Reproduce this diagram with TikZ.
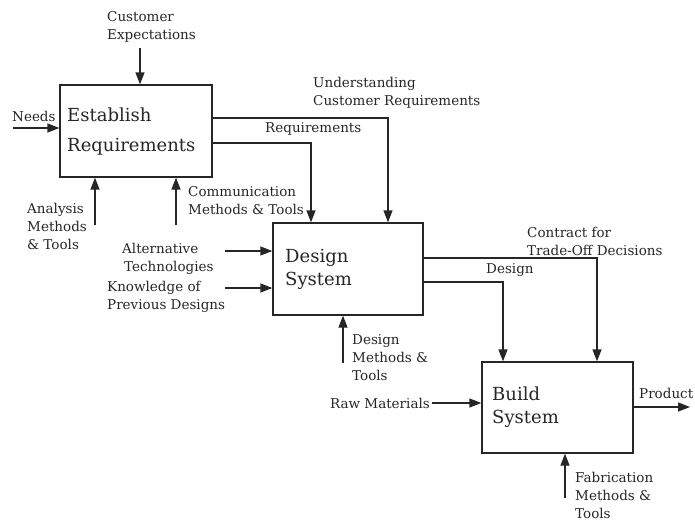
\documentclass[tikz,border=0pt]{standalone}
\usepackage{fontspec}
\setmainfont{DejaVu Serif}
\usetikzlibrary{arrows.meta}
\begin{document}
\begin{tikzpicture}[x=1pt,y=-1pt,
  ink/.style={draw=black!85, line width=1.3pt},
  procbox/.style={ink, rectangle, inner sep=0pt},
  boxtext/.style={anchor=west, align=left, inner sep=0pt, text=black!85},
  arr/.style={ink, -{Triangle[length=12pt,width=9pt]}},
  lbl/.style={align=left, anchor=west, inner sep=0pt,
    font=\fontsize{13.5}{18}\selectfont, text=black!85}]
  \useasboundingbox (0,0) rectangle (695,522);

  % activity boxes
  \node[procbox, minimum width=152pt, minimum height=92pt] (er) at (136,131) {};
  \node[boxtext, font=\fontsize{18}{30}\selectfont] (ert) at (67,132) {Establish\\Requirements};
  \node[procbox, minimum width=150pt, minimum height=92pt] (ds) at (348,269) {};
  \node[boxtext, font=\fontsize{18}{23}\selectfont] (dst) at (285,269) {Design\\System};
  \node[procbox, minimum width=151pt, minimum height=91pt] (bs) at (557.5,407.5) {};
  \node[boxtext, font=\fontsize{18}{23}\selectfont] (bst) at (492,407) {Build\\System};

  % labels
  \node[lbl] (lce) at (107,27) {Customer\\Expectations};
  \node[lbl] (lneeds) at (12,116) {Needs};
  \node[lbl] (lucr) at (313,93) {Understanding\\Customer Requirements};
  \node[lbl] (lreq) at (265,129) {Requirements};
  \node[lbl] (lcom) at (188,201) {Communication\\Methods \& Tools};
  \node[lbl] (lana) at (27,226) {Analysis\\Methods\\\& Tools};
  \node[lbl] (lalt) at (122,259) {Alternative\\\hspace*{2pt}Technologies};
  \node[lbl] (lkno) at (107,297) {Knowledge of\\Previous Designs};
  \node[lbl] (ldmt) at (352,358) {Design\\Methods \&\\Tools};
  \node[lbl] (lcon) at (527,241) {Contract for\\Trade-Off Decisions};
  \node[lbl] (ldes) at (486,270) {Design};
  \node[lbl, anchor=east] (lraw) at (430,403) {Raw Materials};
  \node[lbl] (lprod) at (639,393) {Product};
  \node[lbl] (lfab) at (575,495) {Fabrication\\Methods \&\\Tools};

  % free ends of connectors
  \coordinate (ce) at (140,48);
  \coordinate (nd) at (13,128);
  \coordinate (an) at (95,225);
  \coordinate (cm) at (176,225);
  \coordinate (u1) at (388,118);
  \coordinate (r1) at (311,143);
  \coordinate (al) at (225,251);
  \coordinate (kn) at (225,288);
  \coordinate (dm) at (343,363);
  \coordinate (c1) at (597,258);
  \coordinate (d1) at (503,282);
  \coordinate (rw) at (432,403);
  \coordinate (pr) at (690,407);
  \coordinate (fb) at (565,498);

  % connectors
  \draw[arr] (ce) -- (ce |- er.north);
  \draw[arr] (nd) -- (er.west |- nd);
  \draw[arr] (an) -- (an |- er.south);
  \draw[arr] (cm) -- (cm |- er.south);
  \draw[arr] (er.east |- u1) -- (u1) -- (u1 |- ds.north);
  \draw[arr] (er.east |- r1) -- (r1) -- (r1 |- ds.north);
  \draw[arr] (al) -- (ds.west |- al);
  \draw[arr] (kn) -- (ds.west |- kn);
  \draw[arr] (dm) -- (dm |- ds.south);
  \draw[arr] (ds.east |- c1) -- (c1) -- (c1 |- bs.north);
  \draw[arr] (ds.east |- d1) -- (d1) -- (d1 |- bs.north);
  \draw[arr] (rw) -- (bs.west |- rw);
  \draw[arr] (bs.east |- pr) -- (pr);
  \draw[arr] (fb) -- (fb |- bs.south);
\end{tikzpicture}
\end{document}
